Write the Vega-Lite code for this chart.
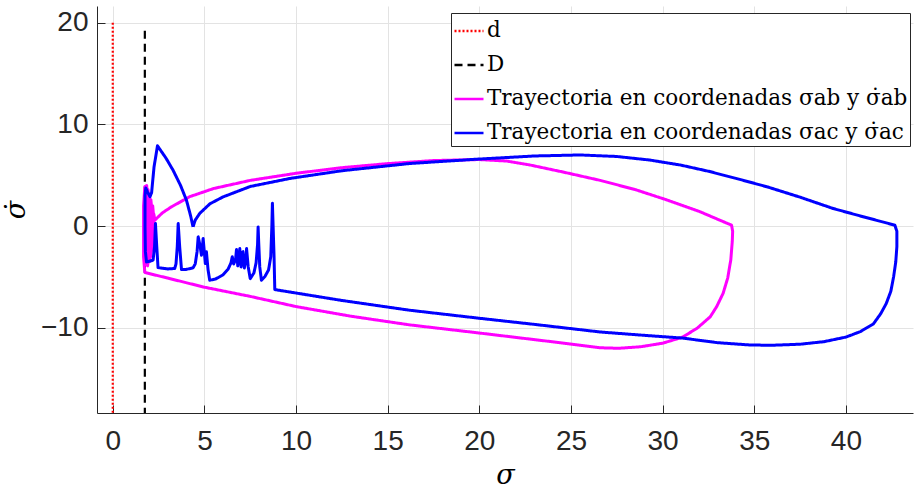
{
  "$schema": "https://vega.github.io/schema/vega-lite/v6.json",
  "width": 816,
  "height": 407,
  "autosize": {"type": "none"},
  "padding": {"left": 97, "top": 6, "right": 1, "bottom": 76},
  "background": "white",
  "config": {
    "view": {"stroke": null},
    "axis": {
      "domainColor": "#262626",
      "domainWidth": 1,
      "tickColor": "#262626",
      "tickSize": -8,
      "tickWidth": 1,
      "gridColor": "#e3e3e3",
      "gridWidth": 1,
      "labelFont": "Liberation Sans",
      "labelFontSize": 28,
      "labelColor": "#262626",
      "titleFont": "DejaVu Serif",
      "titleFontStyle": "italic",
      "titleFontWeight": "normal",
      "titleFontSize": 27,
      "titleColor": "#000000"
    }
  },
  "data": {
    "values": [
      {"s": "d", "i": 1, "x": 0, "y": 20},
      {"s": "d", "i": 2, "x": 0, "y": -20},
      {"s": "D", "i": 1, "x": 1.75, "y": 19.2},
      {"s": "D", "i": 2, "x": 1.75, "y": -20},

      {"s": "ab", "i": 1, "x": 2.3, "y": 0.6},
      {"s": "ab", "i": 2, "x": 2.7, "y": 1.3},
      {"s": "ab", "i": 3, "x": 3.2, "y": 1.9},
      {"s": "ab", "i": 4, "x": 4.2, "y": 2.9},
      {"s": "ab", "i": 5, "x": 5.5, "y": 3.7},
      {"s": "ab", "i": 6, "x": 7.5, "y": 4.5},
      {"s": "ab", "i": 7, "x": 10, "y": 5.2},
      {"s": "ab", "i": 8, "x": 12.5, "y": 5.75},
      {"s": "ab", "i": 9, "x": 15, "y": 6.15},
      {"s": "ab", "i": 10, "x": 17.5, "y": 6.45},
      {"s": "ab", "i": 11, "x": 20, "y": 6.55},
      {"s": "ab", "i": 12, "x": 21.5, "y": 6.4},
      {"s": "ab", "i": 13, "x": 22.8, "y": 6.0},
      {"s": "ab", "i": 14, "x": 24.5, "y": 5.35},
      {"s": "ab", "i": 15, "x": 26.6, "y": 4.5},
      {"s": "ab", "i": 16, "x": 28.5, "y": 3.6},
      {"s": "ab", "i": 17, "x": 30.2, "y": 2.6},
      {"s": "ab", "i": 18, "x": 32, "y": 1.45},
      {"s": "ab", "i": 19, "x": 33.76, "y": 0.1},
      {"s": "ab", "i": 20, "x": 33.82, "y": -0.5},
      {"s": "ab", "i": 21, "x": 33.8, "y": -1.5},
      {"s": "ab", "i": 22, "x": 33.72, "y": -3.3},
      {"s": "ab", "i": 23, "x": 33.55, "y": -5.1},
      {"s": "ab", "i": 24, "x": 33.3, "y": -6.6},
      {"s": "ab", "i": 25, "x": 32.95, "y": -7.9},
      {"s": "ab", "i": 26, "x": 32.6, "y": -8.9},
      {"s": "ab", "i": 27, "x": 31.9, "y": -10.0},
      {"s": "ab", "i": 28, "x": 31.1, "y": -10.9},
      {"s": "ab", "i": 29, "x": 30.0, "y": -11.5},
      {"s": "ab", "i": 30, "x": 28.8, "y": -11.85},
      {"s": "ab", "i": 31, "x": 27.6, "y": -12.0},
      {"s": "ab", "i": 32, "x": 26.6, "y": -11.95},
      {"s": "ab", "i": 33, "x": 24.4, "y": -11.45},
      {"s": "ab", "i": 34, "x": 20, "y": -10.5},
      {"s": "ab", "i": 35, "x": 16.2, "y": -9.7},
      {"s": "ab", "i": 36, "x": 13, "y": -8.85},
      {"s": "ab", "i": 37, "x": 10, "y": -7.9},
      {"s": "ab", "i": 38, "x": 7.5, "y": -6.9},
      {"s": "ab", "i": 39, "x": 4.93, "y": -5.97},
      {"s": "ab", "i": 40, "x": 3, "y": -5.1},
      {"s": "ab", "i": 41, "x": 2.2, "y": -4.75},
      {"s": "ab", "i": 42, "x": 1.75, "y": -4.55},
      {"s": "ab", "i": 43, "x": 1.68, "y": -3.0},
      {"s": "ab", "i": 44, "x": 1.68, "y": 2.0},
      {"s": "ab", "i": 45, "x": 1.75, "y": 3.9},
      {"s": "ab", "i": 46, "x": 1.85, "y": 4.0},
      {"s": "ab", "i": 47, "x": 1.95, "y": 1.5},
      {"s": "ab", "i": 48, "x": 2.0, "y": -2.5},
      {"s": "ab", "i": 49, "x": 1.9, "y": -3.9},
      {"s": "ab", "i": 50, "x": 1.78, "y": -3.5},
      {"s": "ab", "i": 51, "x": 1.74, "y": 0.5},
      {"s": "ab", "i": 52, "x": 1.78, "y": 3.5},
      {"s": "ab", "i": 53, "x": 1.92, "y": 3.6},
      {"s": "ab", "i": 54, "x": 2.05, "y": 1.0},
      {"s": "ab", "i": 55, "x": 2.1, "y": -2.0},
      {"s": "ab", "i": 56, "x": 2.0, "y": -3.5},
      {"s": "ab", "i": 57, "x": 1.85, "y": -3.0},
      {"s": "ab", "i": 58, "x": 1.8, "y": 0.5},
      {"s": "ab", "i": 59, "x": 1.86, "y": 3.0},
      {"s": "ab", "i": 60, "x": 2.0, "y": 3.1},
      {"s": "ab", "i": 61, "x": 2.12, "y": 0.5},
      {"s": "ab", "i": 62, "x": 2.16, "y": -1.8},
      {"s": "ab", "i": 63, "x": 2.06, "y": -3.0},
      {"s": "ab", "i": 64, "x": 1.92, "y": -2.5},
      {"s": "ab", "i": 65, "x": 1.88, "y": 0.5},
      {"s": "ab", "i": 66, "x": 1.95, "y": 2.6},
      {"s": "ab", "i": 67, "x": 2.08, "y": 2.6},
      {"s": "ab", "i": 68, "x": 2.2, "y": 0.3},
      {"s": "ab", "i": 69, "x": 2.22, "y": -1.5},
      {"s": "ab", "i": 70, "x": 2.12, "y": -2.4},
      {"s": "ab", "i": 71, "x": 2.0, "y": -1.8},
      {"s": "ab", "i": 72, "x": 1.98, "y": 0.5},
      {"s": "ab", "i": 73, "x": 2.05, "y": 2.1},
      {"s": "ab", "i": 74, "x": 2.18, "y": 2.0},
      {"s": "ab", "i": 75, "x": 2.26, "y": 0.3},
      {"s": "ab", "i": 76, "x": 2.26, "y": -1.0},
      {"s": "ab", "i": 77, "x": 2.18, "y": -1.4},
      {"s": "ab", "i": 78, "x": 2.1, "y": -0.5},
      {"s": "ab", "i": 79, "x": 2.12, "y": 1.2},
      {"s": "ab", "i": 80, "x": 2.24, "y": 1.2},
      {"s": "ab", "i": 81, "x": 2.3, "y": 0.6},

      {"s": "ac", "i": 1, "x": 4.38, "y": -0.07},
      {"s": "ac", "i": 2, "x": 4.5, "y": 0.6},
      {"s": "ac", "i": 3, "x": 4.75, "y": 1.27},
      {"s": "ac", "i": 4, "x": 5.3, "y": 2.2},
      {"s": "ac", "i": 5, "x": 6.02, "y": 2.88},
      {"s": "ac", "i": 6, "x": 7.5, "y": 3.9},
      {"s": "ac", "i": 7, "x": 9.66, "y": 4.69},
      {"s": "ac", "i": 8, "x": 12.5, "y": 5.45},
      {"s": "ac", "i": 9, "x": 16.2, "y": 6.16},
      {"s": "ac", "i": 10, "x": 20, "y": 6.6},
      {"s": "ac", "i": 11, "x": 23, "y": 6.9},
      {"s": "ac", "i": 12, "x": 25.5, "y": 7.0},
      {"s": "ac", "i": 13, "x": 27.5, "y": 6.85},
      {"s": "ac", "i": 14, "x": 29.3, "y": 6.5},
      {"s": "ac", "i": 15, "x": 31, "y": 6.0},
      {"s": "ac", "i": 16, "x": 32.5, "y": 5.4},
      {"s": "ac", "i": 17, "x": 34, "y": 4.7},
      {"s": "ac", "i": 18, "x": 35.7, "y": 3.87},
      {"s": "ac", "i": 19, "x": 37.5, "y": 2.85},
      {"s": "ac", "i": 20, "x": 39.3, "y": 1.74},
      {"s": "ac", "i": 21, "x": 41, "y": 0.9},
      {"s": "ac", "i": 22, "x": 42.67, "y": 0.1},
      {"s": "ac", "i": 23, "x": 42.78, "y": -0.5},
      {"s": "ac", "i": 24, "x": 42.78, "y": -2.0},
      {"s": "ac", "i": 25, "x": 42.72, "y": -3.5},
      {"s": "ac", "i": 26, "x": 42.6, "y": -5.0},
      {"s": "ac", "i": 27, "x": 42.45, "y": -6.4},
      {"s": "ac", "i": 28, "x": 42.2, "y": -7.6},
      {"s": "ac", "i": 29, "x": 41.9, "y": -8.6},
      {"s": "ac", "i": 30, "x": 41.5, "y": -9.6},
      {"s": "ac", "i": 31, "x": 40.8, "y": -10.35},
      {"s": "ac", "i": 32, "x": 40.0, "y": -10.9},
      {"s": "ac", "i": 33, "x": 38.8, "y": -11.35},
      {"s": "ac", "i": 34, "x": 37.5, "y": -11.6},
      {"s": "ac", "i": 35, "x": 36, "y": -11.7},
      {"s": "ac", "i": 36, "x": 34.8, "y": -11.68},
      {"s": "ac", "i": 37, "x": 33, "y": -11.45},
      {"s": "ac", "i": 38, "x": 31.1, "y": -11.0},
      {"s": "ac", "i": 39, "x": 28.8, "y": -10.7},
      {"s": "ac", "i": 40, "x": 26.6, "y": -10.4},
      {"s": "ac", "i": 41, "x": 23, "y": -9.65},
      {"s": "ac", "i": 42, "x": 20, "y": -9.05},
      {"s": "ac", "i": 43, "x": 16.2, "y": -8.26},
      {"s": "ac", "i": 44, "x": 12.5, "y": -7.3},
      {"s": "ac", "i": 45, "x": 8.84, "y": -6.23},
      {"s": "ac", "i": 46, "x": 8.8, "y": -3.0},
      {"s": "ac", "i": 47, "x": 8.74, "y": 0.5},
      {"s": "ac", "i": 48, "x": 8.71, "y": 2.25},
      {"s": "ac", "i": 49, "x": 8.68, "y": 0.0},
      {"s": "ac", "i": 50, "x": 8.62, "y": -3.0},
      {"s": "ac", "i": 51, "x": 8.5, "y": -4.3},
      {"s": "ac", "i": 52, "x": 8.3, "y": -4.95},
      {"s": "ac", "i": 53, "x": 8.11, "y": -5.3},
      {"s": "ac", "i": 54, "x": 8.02, "y": -4.0},
      {"s": "ac", "i": 55, "x": 7.96, "y": -1.5},
      {"s": "ac", "i": 56, "x": 7.93, "y": -0.07},
      {"s": "ac", "i": 57, "x": 7.9, "y": -1.8},
      {"s": "ac", "i": 58, "x": 7.82, "y": -3.6},
      {"s": "ac", "i": 59, "x": 7.7, "y": -4.6},
      {"s": "ac", "i": 60, "x": 7.5, "y": -5.15},
      {"s": "ac", "i": 61, "x": 7.39, "y": -4.0},
      {"s": "ac", "i": 62, "x": 7.3, "y": -2.2},
      {"s": "ac", "i": 63, "x": 7.25, "y": -3.4},
      {"s": "ac", "i": 64, "x": 7.18, "y": -4.1},
      {"s": "ac", "i": 65, "x": 7.1, "y": -2.5},
      {"s": "ac", "i": 66, "x": 7.05, "y": -3.5},
      {"s": "ac", "i": 67, "x": 7.0, "y": -4.0},
      {"s": "ac", "i": 68, "x": 6.93, "y": -2.2},
      {"s": "ac", "i": 69, "x": 6.88, "y": -3.2},
      {"s": "ac", "i": 70, "x": 6.82, "y": -3.9},
      {"s": "ac", "i": 71, "x": 6.75, "y": -2.3},
      {"s": "ac", "i": 72, "x": 6.7, "y": -3.3},
      {"s": "ac", "i": 73, "x": 6.6, "y": -3.7},
      {"s": "ac", "i": 74, "x": 6.52, "y": -3.0},
      {"s": "ac", "i": 75, "x": 6.45, "y": -3.6},
      {"s": "ac", "i": 76, "x": 6.3, "y": -4.2},
      {"s": "ac", "i": 77, "x": 6.0, "y": -4.8},
      {"s": "ac", "i": 78, "x": 5.6, "y": -5.2},
      {"s": "ac", "i": 79, "x": 5.29, "y": -5.31},
      {"s": "ac", "i": 80, "x": 5.2, "y": -4.3},
      {"s": "ac", "i": 81, "x": 5.11, "y": -2.52},
      {"s": "ac", "i": 82, "x": 5.05, "y": -3.67},
      {"s": "ac", "i": 83, "x": 4.97, "y": -2.0},
      {"s": "ac", "i": 84, "x": 4.93, "y": -1.21},
      {"s": "ac", "i": 85, "x": 4.88, "y": -2.2},
      {"s": "ac", "i": 86, "x": 4.84, "y": -2.85},
      {"s": "ac", "i": 87, "x": 4.75, "y": -1.8},
      {"s": "ac", "i": 88, "x": 4.66, "y": -1.05},
      {"s": "ac", "i": 89, "x": 4.6, "y": -2.5},
      {"s": "ac", "i": 90, "x": 4.5, "y": -3.7},
      {"s": "ac", "i": 91, "x": 4.38, "y": -4.1},
      {"s": "ac", "i": 92, "x": 4.0, "y": -4.25},
      {"s": "ac", "i": 93, "x": 3.75, "y": -4.26},
      {"s": "ac", "i": 94, "x": 3.65, "y": -2.0},
      {"s": "ac", "i": 95, "x": 3.57, "y": 0.26},
      {"s": "ac", "i": 96, "x": 3.52, "y": -2.0},
      {"s": "ac", "i": 97, "x": 3.45, "y": -3.7},
      {"s": "ac", "i": 98, "x": 3.38, "y": -4.16},
      {"s": "ac", "i": 99, "x": 3.0, "y": -4.2},
      {"s": "ac", "i": 100, "x": 2.6, "y": -4.1},
      {"s": "ac", "i": 101, "x": 2.47, "y": -4.07},
      {"s": "ac", "i": 102, "x": 2.4, "y": -2.0},
      {"s": "ac", "i": 103, "x": 2.33, "y": 0.26},
      {"s": "ac", "i": 104, "x": 2.28, "y": -2.0},
      {"s": "ac", "i": 105, "x": 2.2, "y": -3.34},
      {"s": "ac", "i": 106, "x": 2.0, "y": -3.45},
      {"s": "ac", "i": 107, "x": 1.84, "y": -3.51},
      {"s": "ac", "i": 108, "x": 1.78, "y": -2.5},
      {"s": "ac", "i": 109, "x": 1.76, "y": 0},
      {"s": "ac", "i": 110, "x": 1.76, "y": 3.0},
      {"s": "ac", "i": 111, "x": 1.8, "y": 3.75},
      {"s": "ac", "i": 112, "x": 1.9, "y": 3.35},
      {"s": "ac", "i": 113, "x": 2.03, "y": 2.9},
      {"s": "ac", "i": 114, "x": 2.12, "y": 3.3},
      {"s": "ac", "i": 115, "x": 2.25, "y": 5.8},
      {"s": "ac", "i": 116, "x": 2.44, "y": 7.9},
      {"s": "ac", "i": 117, "x": 2.9, "y": 6.7},
      {"s": "ac", "i": 118, "x": 3.29, "y": 5.5},
      {"s": "ac", "i": 119, "x": 3.7, "y": 4.0},
      {"s": "ac", "i": 120, "x": 4.02, "y": 2.56},
      {"s": "ac", "i": 121, "x": 4.25, "y": 1.0},
      {"s": "ac", "i": 122, "x": 4.38, "y": -0.07}
    ]
  },
  "encoding": {
    "x": {
      "field": "x",
      "type": "quantitative",
      "scale": {"domain": [-0.86, 43.66], "nice": false, "zero": false},
      "axis": {
        "title": "σ",
        "values": [0, 5, 10, 15, 20, 25, 30, 35, 40],
        "labelPadding": 22,
        "titlePadding": 7
      }
    },
    "y": {
      "field": "y",
      "type": "quantitative",
      "scale": {"domain": [-18.36, 21.64], "nice": false, "zero": false},
      "axis": {
        "title": "σ̇",
        "values": [-10, 0, 10, 20],
        "labelPadding": 17,
        "titlePadding": 10
      }
    },
    "order": {"field": "i", "type": "quantitative"},
    "color": {
      "field": "s",
      "type": "nominal",
      "scale": {
        "domain": ["d", "D", "ab", "ac"],
        "range": ["#ff0000", "#000000", "#ff00ff", "#0000ff"]
      },
      "legend": {
        "title": null,
        "orient": "none",
        "legendX": 354,
        "legendY": 7,
        "direction": "vertical",
        "fillColor": "white",
        "strokeColor": "#262626",
        "padding": 2,
        "symbolType": "stroke",
        "symbolSize": 841,
        "symbolStrokeWidth": 2.6,
        "labelFont": "DejaVu Serif",
        "labelFontSize": 21.5,
        "labelColor": "#000000",
        "labelOffset": 2,
        "labelLimit": 600,
        "rowPadding": 7,
        "labelExpr": "datum.value == 'ab' ? 'Trayectoria en coordenadas σab y σ̇ab' : datum.value == 'ac' ? 'Trayectoria en coordenadas σac y σ̇ac' : datum.value"
      }
    },
    "strokeDash": {
      "field": "s",
      "type": "nominal",
      "scale": {
        "domain": ["d", "D", "ab", "ac"],
        "range": [[2, 2], [8, 5], [1, 0], [1, 0]]
      }
    }
  },
  "layer": [
    {
      "transform": [{"filter": "datum.s == 'd' || datum.s == 'D'"}],
      "mark": {"type": "line", "clip": true, "strokeWidth": 2.2, "strokeCap": "butt"}
    },
    {
      "transform": [{"filter": "datum.s == 'ab' || datum.s == 'ac'"}],
      "mark": {"type": "line", "clip": true, "strokeWidth": 3, "strokeJoin": "round", "strokeCap": "butt"}
    }
  ]
}
